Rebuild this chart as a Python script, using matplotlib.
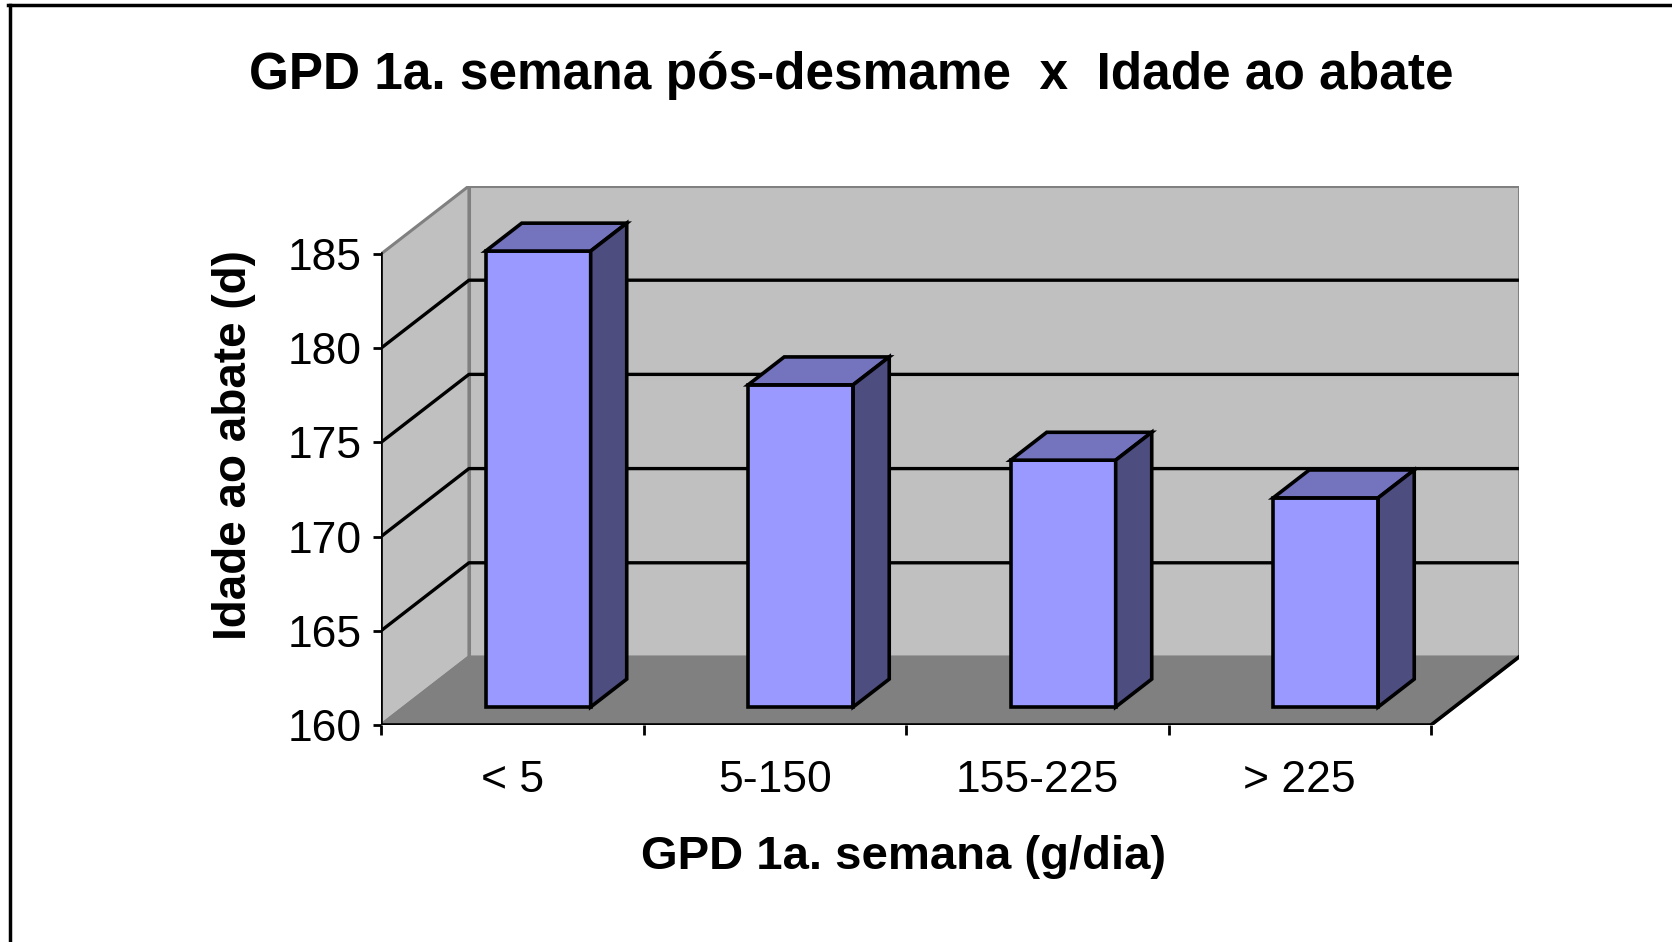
import numpy as np
import matplotlib
matplotlib.use("Agg")
import matplotlib.pyplot as plt
from matplotlib.patches import Polygon
from matplotlib.lines import Line2D

plt.rcParams['font.family'] = ['Liberation Sans', 'DejaVu Sans']

# dados
categorias = ["< 5", "5-150", "155-225", "> 225"]
idade = [184.2, 177.1, 173.1, 171.1]
yticks = [160, 165, 170, 175, 180, 185]
titulo = "GPD 1a. semana pós-desmame  x  Idade ao abate"
xlab = "GPD 1a. semana (g/dia)"
ylab = "Idade ao abate (d)"

# projecao obliqua (profundidade z de 0 a 1)
DX = 0.335
DY = 3.61
YMIN, YMAX = 160, 185
N = len(categorias)

def P(x, v, z):
    return (x + z * DX, v + z * DY)

def poly(pts, **kw):
    return Polygon([P(*p) for p in pts], closed=True, **kw)

fig = plt.figure(figsize=(16.72, 9.42), dpi=100)
ax = fig.add_axes([381 / 1672, 217 / 942, (N + DX) * 262.5 / 1672, (YMAX - YMIN + DY) * 18.84 / 942])
ax.set_xlim(0, N + DX)
ax.set_ylim(YMIN, YMAX + DY)
for s in ax.spines.values():
    s.set_visible(False)
ax.patch.set_visible(False)

wall = '#C0C0C0'
floor = '#808080'
edge = '#808080'

# paredes e piso
ax.add_patch(poly([(0, YMIN, 1), (N, YMIN, 1), (N, YMAX, 1), (0, YMAX, 1)],
                  facecolor=wall, edgecolor=edge, lw=2.2, zorder=1))
ax.add_patch(poly([(0, YMIN, 0), (0, YMIN, 1), (0, YMAX, 1), (0, YMAX, 0)],
                  facecolor=wall, edgecolor=edge, lw=2.2, zorder=1))
ax.add_patch(poly([(0, YMIN, 0), (N, YMIN, 0), (N, YMIN, 1), (0, YMIN, 1)],
                  facecolor=floor, edgecolor=edge, lw=2.2, zorder=1))

# linhas de grade
for v in yticks[1:-1]:
    x0, y0 = P(0, v, 0)
    x1, y1 = P(0, v, 1)
    x2, y2 = P(N, v, 1)
    ax.plot([x0, x1, x2], [y0, y1, y2], color='black', lw=2.4, zorder=2,
            solid_capstyle='butt')

# eixos frontais
ax.plot([0, 0], [YMIN, YMAX], color='black', lw=2.6, zorder=3)
ax.plot([0, N], [YMIN, YMIN], color='black', lw=2.6, zorder=3)
xa, ya = P(N, YMIN, 1)
ax.plot([N, xa], [YMIN, ya], color='black', lw=2.6, zorder=3)

# barras
w = 0.2
z0, z1 = 0.265, 0.675
for i, v in enumerate(idade):
    c = i + 0.51
    ax.add_patch(poly([(c - w, YMIN, z0), (c + w, YMIN, z0), (c + w, v, z0), (c - w, v, z0)],
                      facecolor='#9999FF', edgecolor='black', lw=2.6, zorder=4, joinstyle='miter'))
    ax.add_patch(poly([(c - w, v, z0), (c + w, v, z0), (c + w, v, z1), (c - w, v, z1)],
                      facecolor='#7373BE', edgecolor='black', lw=2.6, zorder=4, joinstyle='miter'))
    ax.add_patch(poly([(c + w, YMIN, z0), (c + w, YMIN, z1), (c + w, v, z1), (c + w, v, z0)],
                      facecolor='#4D4D80', edgecolor='black', lw=2.6, zorder=4, joinstyle='miter'))

# ticks
ax.set_yticks(yticks)
ax.set_yticklabels([str(t) for t in yticks], fontsize=32)
ax.tick_params(axis='y', direction='out', length=6, width=2.0, pad=8)
ax.set_xticks(range(N + 1))
ax.set_xticklabels([])
ax.set_xticks([i + 0.5 for i in range(N)], minor=True)
ax.set_xticklabels(categorias, minor=True, fontsize=32)
ax.tick_params(axis='x', which='major', direction='out', length=7, width=2.0)
ax.tick_params(axis='x', which='minor', length=0, pad=25)

# textos
fig.text(851 / 1672, 1 - 76 / 942, titulo, ha='center', va='center',
         fontsize=37, fontweight='bold')
fig.text(904 / 1672, 1 - 857 / 942, xlab, ha='center', va='center',
         fontsize=34, fontweight='bold')
fig.text(234 / 1672, 1 - 445 / 942, ylab, ha='center', va='center',
         fontsize=33, fontweight='bold', rotation=90)

# moldura
fig.add_artist(Line2D([8 / 1672, 1], [1 - 4.5 / 942, 1 - 4.5 / 942], color='black', lw=2.5))
fig.add_artist(Line2D([10 / 1672, 10 / 1672], [0, 1 - 4.5 / 942], color='black', lw=2.5))

fig.savefig("out.png", dpi=100)
